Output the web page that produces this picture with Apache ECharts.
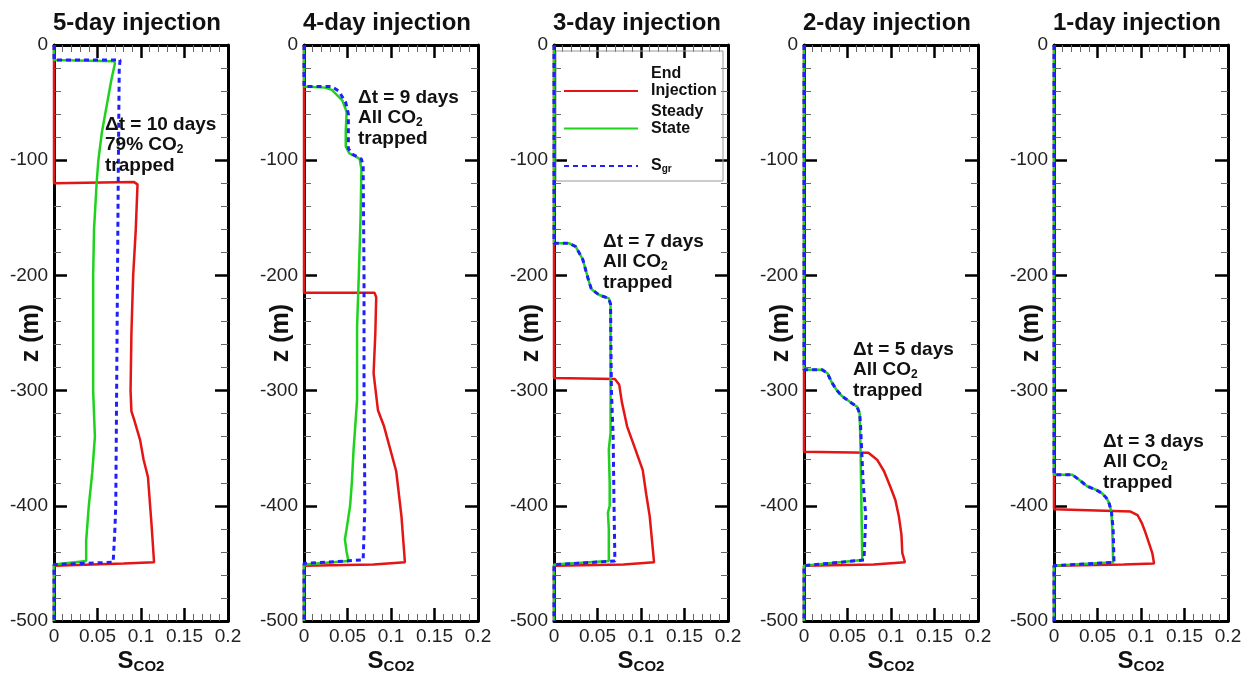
<!DOCTYPE html>
<html><head><meta charset="utf-8">
<script src="https://cdn.jsdelivr.net/npm/echarts@6/dist/echarts.min.js"></script>
<style>html,body{margin:0;padding:0;background:#fff}#c{width:1249px;height:685px}</style>
</head><body><div id="c"></div>
<script>
// ---------- data ----------
const panelTitles = ['5-day injection', '4-day injection', '3-day injection', '2-day injection', '1-day injection'];
const xTicks = [0, 0.05, 0.1, 0.15, 0.2];
const zTicks = [0, -100, -200, -300, -400, -500];
const seriesNames = ['End Injection', 'Steady State', 'Sgr'];
const deltaT = ['\u0394t = 10 days', '\u0394t = 9 days', '\u0394t = 7 days', '\u0394t = 5 days', '\u0394t = 3 days'];
const trappedShare = ['79% CO', 'All CO', 'All CO', 'All CO', 'All CO'];

// [S_CO2, z]
const endInjection5d = [[0,0],[0,-120],[0.092,-119],[0.096,-121],[0.094,-160],[0.091,-200],[0.089,-250],[0.088,-300],[0.089,-318],[0.092,-325],[0.099,-343],[0.103,-360],[0.108,-375],[0.112,-415],[0.115,-449],[0.080,-450],[0,-452],[0,-500]];
const steadyState5d = [[0,0],[0,-13],[0.069,-14],[0.070,-16],[0.066,-30],[0.060,-55],[0.055,-76],[0.051,-100],[0.049,-120],[0.046,-160],[0.045,-200],[0.045,-250],[0.045,-300],[0.047,-340],[0.044,-371],[0.040,-400],[0.037,-430],[0.037,-448],[0,-451],[0,-500]];
const sgr5d = [[0,0],[0,-13],[0.076,-13],[0.075,-20],[0.074,-100],[0.073,-200],[0.072,-300],[0.071,-400],[0.070,-420],[0.068,-449],[0,-451],[0,-500]];

const endInjection4d = [[0,0],[0,-215],[0.081,-215],[0.083,-219],[0.082,-250],[0.080,-285],[0.085,-317],[0.092,-331],[0.106,-370],[0.112,-409],[0.116,-449],[0.080,-451],[0,-452],[0,-500]];
const steadyState4d = [[0,0],[0,-36],[0.024,-37],[0.032,-39],[0.044,-48],[0.049,-58],[0.048,-75],[0.048,-88],[0.052,-94],[0.060,-97],[0.064,-99],[0.066,-108],[0.065,-150],[0.063,-200],[0.061,-245],[0.061,-308],[0.059,-330],[0.057,-351],[0.055,-380],[0.053,-400],[0.049,-420],[0.047,-429],[0.049,-440],[0.051,-448],[0,-451],[0,-500]];
const sgr4d = [[0,0],[0,-36],[0.032,-36],[0.040,-40],[0.048,-50],[0.051,-60],[0.051,-90],[0.056,-95],[0.066,-99],[0.068,-105],[0.069,-200],[0.069,-300],[0.070,-400],[0.068,-447],[0,-450],[0,-500]];

const endInjection3d = [[0,0],[0,-289],[0.070,-290],[0.075,-295],[0.078,-310],[0.084,-331],[0.093,-350],[0.102,-369],[0.106,-390],[0.110,-409],[0.115,-449],[0.080,-451],[0,-452],[0,-500]];
const steadyState3d = [[0,0],[0,-172],[0.017,-172],[0.025,-175],[0.033,-186],[0.040,-205],[0.043,-212],[0.052,-217],[0.063,-220],[0.065,-225],[0.065,-300],[0.065,-337],[0.063,-351],[0.064,-380],[0.064,-400],[0.062,-406],[0.063,-420],[0.063,-448],[0,-451],[0,-500]];
const sgr3d = [[0,0],[0,-172],[0.017,-172],[0.025,-175],[0.033,-186],[0.040,-205],[0.043,-212],[0.052,-217],[0.063,-220],[0.065,-225],[0.066,-300],[0.068,-340],[0.069,-400],[0.070,-448],[0,-451],[0,-500]];

const endInjection2d = [[0,0],[0,-353],[0.074,-354],[0.084,-360],[0.092,-370],[0.099,-383],[0.105,-395],[0.109,-409],[0.112,-425],[0.113,-441],[0.116,-449],[0.080,-451],[0,-452],[0,-500]];
const steadyState2d = [[0,0],[0,-282],[0.021,-282],[0.027,-285],[0.032,-293],[0.038,-300],[0.044,-305],[0.055,-311],[0.061,-314],[0.064,-320],[0.065,-350],[0.066,-400],[0.067,-447],[0,-452],[0,-500]];
const sgr2d = [[0,0],[0,-282],[0.021,-282],[0.027,-285],[0.032,-293],[0.038,-300],[0.044,-305],[0.055,-311],[0.061,-314],[0.064,-320],[0.065,-330],[0.068,-380],[0.071,-409],[0.069,-447],[0,-452],[0,-500]];

const endInjection1d = [[0,0],[0,-403],[0.088,-405],[0.096,-408],[0.101,-415],[0.105,-423],[0.109,-432],[0.113,-441],[0.115,-450],[0.080,-451],[0,-452],[0,-500]];
const steadyState1d = [[0,0],[0,-373],[0.021,-373],[0.030,-378],[0.038,-383],[0.048,-386],[0.055,-389],[0.060,-393],[0.063,-397],[0.066,-405],[0.067,-420],[0.068,-449],[0,-452],[0,-500]];
const sgr1d = [[0,0],[0,-373],[0.021,-373],[0.030,-378],[0.038,-383],[0.048,-386],[0.055,-389],[0.060,-393],[0.063,-397],[0.066,-405],[0.068,-420],[0.069,-449],[0,-452],[0,-500]];

const endInjection = [endInjection5d, endInjection4d, endInjection3d, endInjection2d, endInjection1d];
const steadyState = [steadyState5d, steadyState4d, steadyState3d, steadyState2d, steadyState1d];
const sgr = [sgr5d, sgr4d, sgr3d, sgr2d, sgr1d];

// ---------- layout / style ----------
const FONT = '"Liberation Sans", Arial, Helvetica, sans-serif';
const gridLeft = [54, 304, 554, 804, 1054];
const gridTop = 45, gridW = 174, gridH = 576;
const annotPos = [[105, 114.5], [358, 87.5], [603, 231.5], [853, 339.5], [1103, 431.5]];
const colors = { red: '#e31515', green: '#1ed21e', blue: '#2020ff' };

const majorTick = { show: true, inside: true, length: 13, lineStyle: { color: '#000', width: 2.5 } };
const minorTick = { show: true, splitNumber: 5, length: 7, lineStyle: { color: '#666', width: 1 } };
const axisLineStyle = { show: true, onZero: false, lineStyle: { color: '#000', width: 3 } };

const grids = [], xAxes = [], yAxes = [], series = [], titles = [], graphics = [];

panelTitles.forEach((t, i) => {
  grids.push({ left: gridLeft[i], top: gridTop, width: gridW, height: gridH, containLabel: false, outerBoundsMode: 'none' });
  titles.push({
    text: t, left: gridLeft[i] + gridW / 2 - 4, top: 11, textAlign: 'center', padding: 0,
    textStyle: { fontFamily: FONT, fontSize: 24, fontWeight: 'bold', color: '#111' }
  });
  const xBase = { type: 'value', gridIndex: i, min: xTicks[0], max: xTicks[xTicks.length - 1], interval: xTicks[1] - xTicks[0],
    axisLine: axisLineStyle, axisTick: majorTick, minorTick: minorTick, splitLine: { show: false } };
  xAxes.push(Object.assign({}, xBase, {
    position: 'bottom',
    axisLabel: { margin: 6, fontSize: 19, color: '#222', fontFamily: FONT, hideOverlap: false },
    name: '{s|S}{sub|CO2}', nameLocation: 'middle', nameGap: 27, nameMoveOverlap: false,
    nameTextStyle: { rich: {
      s: { fontFamily: FONT, fontSize: 24, fontWeight: 'bold', color: '#111', lineHeight: 26 },
      sub: { fontFamily: FONT, fontSize: 15, fontWeight: 'bold', color: '#111', lineHeight: 10, verticalAlign: 'bottom' }
    } }
  }));
  xAxes.push(Object.assign({}, xBase, { position: 'top', axisLabel: { show: false } }));
  const yBase = { type: 'value', gridIndex: i, min: zTicks[zTicks.length - 1], max: zTicks[0], interval: zTicks[0] - zTicks[1],
    axisLine: axisLineStyle, axisTick: majorTick, minorTick: minorTick, splitLine: { show: false } };
  yAxes.push(Object.assign({}, yBase, {
    position: 'left',
    axisLabel: { margin: 6, fontSize: 19, color: '#222', fontFamily: FONT, hideOverlap: false },
    name: 'z (m)', nameLocation: 'middle', nameRotate: 90, nameGap: 10, nameMoveOverlap: false,
    nameTextStyle: { fontFamily: FONT, fontSize: 25, fontWeight: 'bold', color: '#111' }
  }));
  yAxes.push(Object.assign({}, yBase, { position: 'right', axisLabel: { show: false } }));

  const common = { type: 'line', xAxisIndex: 2 * i, yAxisIndex: 2 * i, symbol: 'none', showSymbol: false, clip: false, animation: false };
  series.push(Object.assign({}, common, { name: seriesNames[0], data: endInjection[i], z: 3,
    itemStyle: { color: colors.red }, lineStyle: { color: colors.red, width: 2.5 } }));
  series.push(Object.assign({}, common, { name: seriesNames[1], data: steadyState[i], z: 4,
    itemStyle: { color: colors.green }, lineStyle: { color: colors.green, width: 2.5 } }));
  series.push(Object.assign({}, common, { name: seriesNames[2], data: sgr[i], z: 5,
    itemStyle: { color: colors.blue }, lineStyle: { color: colors.blue, width: 3, type: [5, 4] } }));

  graphics.push({
    type: 'text', x: annotPos[i][0], y: annotPos[i][1], z: 20,
    style: {
      text: '{a|' + deltaT[i] + '}\n{a|' + trappedShare[i] + '}{s|2}\n{a|trapped}',
      rich: {
        a: { fontFamily: FONT, fontSize: 19, fontWeight: 'bold', fill: '#111', lineHeight: 20.5 },
        s: { fontFamily: FONT, fontSize: 12, fontWeight: 'bold', fill: '#111', lineHeight: 8, verticalAlign: 'bottom' }
      }
    }
  });
});

// legend frame
graphics.push({ type: 'rect', shape: { x: 556, y: 51, width: 167, height: 130 }, style: { fill: 'none', stroke: '#999', lineWidth: 1 }, z: 1 });

const legendLabels = {
  'End Injection': '{t|End}\n{t|Injection}\n{t| }',
  'Steady State': '{t|Steady}\n{t|State}\n{t| }',
  'Sgr': '{t| }\n{S|S}{g|gr}\n{t| }'
};

const option = {
  animation: false,
  backgroundColor: '#fff',
  title: titles,
  grid: grids,
  xAxis: xAxes,
  yAxis: yAxes,
  series: series,
  graphic: graphics,
  legend: {
    data: seriesNames, orient: 'vertical', left: 563, top: 65.5, padding: 0,
    itemWidth: 74, itemHeight: 14, itemGap: -13.5, selectedMode: false,
    itemStyle: { opacity: 0 },
    formatter: n => legendLabels[n],
    textStyle: { fontFamily: FONT, fontSize: 16, fontWeight: 'bold', color: '#111', lineHeight: 17,
      rich: {
        t: { fontFamily: FONT, fontSize: 16, fontWeight: 'bold', color: '#111', lineHeight: 17, padding: [0, 0, 0, 8] },
        S: { fontFamily: FONT, fontSize: 16, fontWeight: 'bold', color: '#111', lineHeight: 17, padding: [0, 0, 0, 8] },
        g: { fontFamily: FONT, fontSize: 10, fontWeight: 'bold', color: '#111', lineHeight: 8, verticalAlign: 'bottom' }
      } }
  }
};

const chart = echarts.init(document.getElementById('c'));
chart.setOption(option);
</script>
</body></html>
